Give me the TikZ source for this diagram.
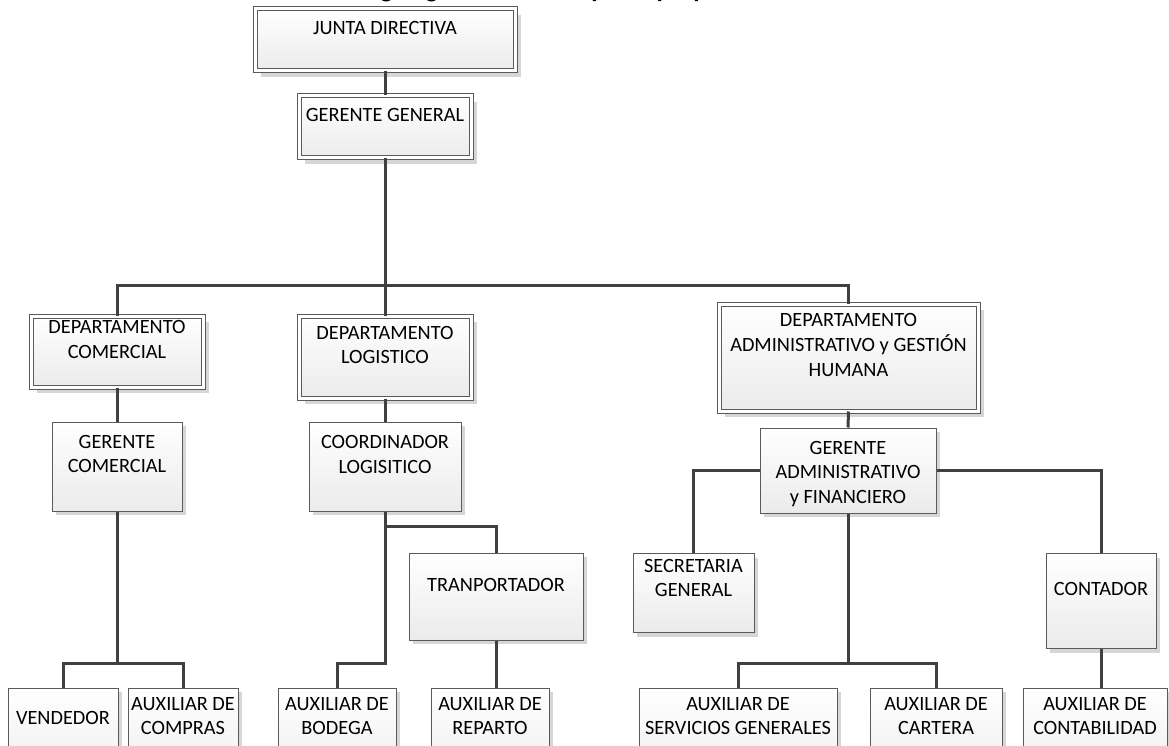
\documentclass[tikz,border=0pt]{standalone}
\usepackage{fontspec}
\setmainfont{Carlito}
\usetikzlibrary{shadows}

\definecolor{boxline}{HTML}{5A5A5A}
\definecolor{boxfill}{HTML}{EBEBEB}
\definecolor{shadowc}{HTML}{D6D6D6}
\definecolor{linkc}{HTML}{404040}

\tikzset{
  box/.style={draw=boxline, line width=1pt, top color=white, bottom color=boxfill,
    inner sep=0pt, general shadow={fill=shadowc, shadow xshift=4pt, shadow yshift=-4pt}},
  dbox/.style={draw=boxline, line width=1pt, double=white, double distance=3pt,
    top color=white, bottom color=boxfill, inner sep=0pt,
    general shadow={fill=shadowc, shadow xshift=6pt, shadow yshift=-6pt}},
  lbl/.style={font=\fontsize{20.3}{24.8}\selectfont, align=center, inner sep=0pt, text=black},
  link/.style={draw=linkc, line width=3pt},
  ttl/.style={font=\fontsize{26}{30}\selectfont\bfseries, inner sep=0pt, anchor=base}
}

\begin{document}
\begin{tikzpicture}[x=1pt,y=-1pt]
\clip (0,0) rectangle (1169,746);
\fill[white] (0,0) rectangle (1169,746);

% heading, mostly above the page edge
\node[ttl] (title) at (560,-2) {Organigrama de la empresa propuesta};

% upper levels (double frame)
\node[dbox, minimum width=260pt, minimum height=62pt] (jd) at (385,40) {};
\node[dbox, minimum width=172pt, minimum height=62pt] (gg) at (385,127) {};
\node[dbox, minimum width=172pt, minimum height=71pt] (dc) at (117,351.5) {};
\node[dbox, minimum width=172pt, minimum height=82pt] (dl) at (385,357) {};
\node[dbox, minimum width=259pt, minimum height=107pt] (da) at (848.5,357.5) {};

% managers and staff
\node[box, minimum width=130pt, minimum height=89pt] (gc) at (117,466.5) {};
\node[box, minimum width=152pt, minimum height=89pt] (cl) at (385,466.5) {};
\node[box, minimum width=176pt, minimum height=85pt] (ga) at (848,470.5) {};
\node[box, minimum width=121pt, minimum height=79pt] (sg) at (693.5,593) {};
\node[box, minimum width=174pt, minimum height=87pt] (tr) at (496,596.5) {};
\node[box, minimum width=110pt, minimum height=95pt] (ct) at (1101,601) {};

% bottom row
\node[box, minimum width=110pt, minimum height=107pt] (ven) at (63,741.5) {};
\node[box, minimum width=110pt, minimum height=107pt] (acomp) at (183,741.5) {};
\node[box, minimum width=118pt, minimum height=107pt] (abod) at (337,741.5) {};
\node[box, minimum width=118pt, minimum height=107pt] (arep) at (490,741.5) {};
\node[box, minimum width=198pt, minimum height=107pt] (asg) at (738,741.5) {};
\node[box, minimum width=132pt, minimum height=107pt] (acar) at (936,741.5) {};
\node[box, minimum width=144pt, minimum height=107pt] (acon) at (1095,741.5) {};

% labels
\node[lbl] (jdt) at (385,28) {JUNTA DIRECTIVA};
\node[lbl] (ggt) at (385,115) {GERENTE GENERAL};
\node[lbl] (dct) at (117,339.5) {DEPARTAMENTO\\COMERCIAL};
\node[lbl] (dlt) at (385,345) {DEPARTAMENTO\\LOGISTICO};
\node[lbl] (dat) at (848.5,345) {DEPARTAMENTO\\ADMINISTRATIVO y GESTIÓN\\HUMANA};
\node[lbl] (gct) at (117,454) {GERENTE\\COMERCIAL};
\node[lbl] (clt) at (385,454.5) {COORDINADOR\\LOGISITICO};
\node[lbl] (gat) at (848,474) {GERENTE\\ADMINISTRATIVO\\y FINANCIERO};
\node[lbl] (sgt) at (693.5,578) {SECRETARIA\\GENERAL};
\node[lbl] (trt) at (496,585) {TRANPORTADOR};
\node[lbl] (ctt) at (1101,589) {CONTADOR};
\node[lbl] (vent) at (63,718) {VENDEDOR};
\node[lbl] (acompt) at (183,716) {AUXILIAR DE\\COMPRAS};
\node[lbl] (abodt) at (337,716) {AUXILIAR DE\\BODEGA};
\node[lbl] (arept) at (490,716) {AUXILIAR DE\\REPARTO};
\node[lbl] (asgt) at (738,716) {AUXILIAR DE\\SERVICIOS GENERALES};
\node[lbl] (acart) at (936,716) {AUXILIAR DE\\CARTERA};
\node[lbl] (acont) at (1095,716) {AUXILIAR DE\\CONTABILIDAD};

% junction points of the connector buses
\coordinate (b1) at (385,285);
\coordinate (cbus) at (117,663);
\coordinate (lbus1) at (385,526);
\coordinate (lbus2) at (385,663);
\coordinate (gbus) at (848,663);

% connectors
\draw[link] (jd.south) -- (gg.north);
\draw[link] (gg.south) -- (dl.north);
\draw[link] (dc.north) |- (b1) -| (da.north);
\draw[link] (dc.south) -- (gc.north);
\draw[link] (gc.south) -- (cbus);
\draw[link] (ven.north) |- (cbus) -| (acomp.north);
\draw[link] (dl.south) -- (cl.north);
\draw[link] (cl.south) -- (lbus2) -| (abod.north);
\draw[link] (lbus1) -| (tr.north);
\draw[link] (tr.south) -- (tr.south |- arep.north);
\draw[link] (da.south) -- (ga.north);
\draw[link] (ga.west) -| (sg.north);
\draw[link] (ga.east) -| (ct.north);
\draw[link] (ga.south) -- (gbus);
\draw[link] (asg.north) |- (gbus) -| (acar.north);
\draw[link] (ct.south) -- (ct.south |- acon.north);
\end{tikzpicture}
\end{document}
